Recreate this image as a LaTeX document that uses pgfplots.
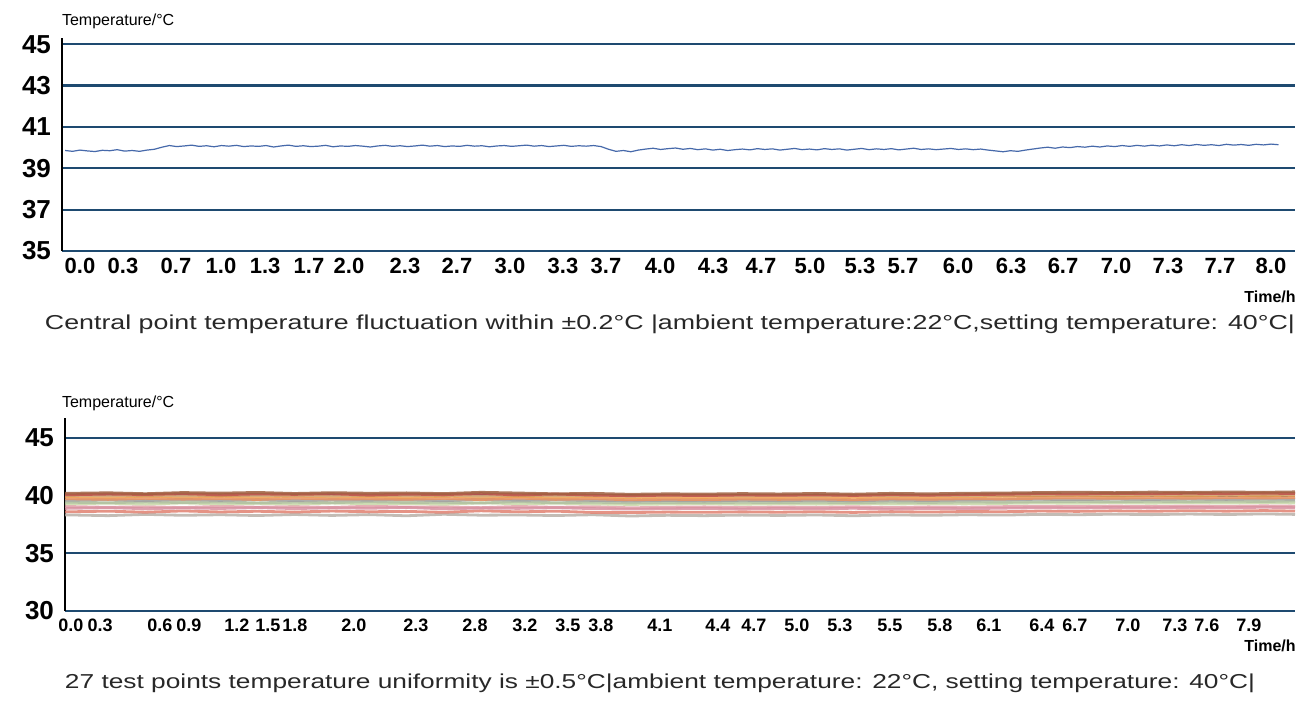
\documentclass[border=0pt]{standalone}
\usepackage{fontspec}
\setmainfont{Liberation Sans}
\usepackage{pgfplots}
\pgfplotsset{compat=1.18}
\usepackage{pgfplotstable}

\definecolor{gridblue}{RGB}{30,74,112}
\definecolor{lineblue}{RGB}{70,105,170}
\definecolor{captxt}{RGB}{40,40,40}
\definecolor{c1}{RGB}{192,80,77}
\definecolor{c2}{RGB}{240,160,80}
\definecolor{c3}{RGB}{216,176,128}
\definecolor{c4}{RGB}{160,160,160}
\definecolor{c5}{RGB}{176,192,160}
\definecolor{c6}{RGB}{200,216,168}
\definecolor{c7}{RGB}{224,160,168}
\definecolor{c8}{RGB}{224,128,112}
\definecolor{c9}{RGB}{184,176,168}
\definecolor{c10}{RGB}{160,96,64}
\definecolor{c11}{RGB}{232,144,96}
\definecolor{c12}{RGB}{216,144,160}

\pgfplotstableread{
x s1 s2 s3 s4 s5 s6 s7 s8 s9 s10 s11 s12
-0.04 40.05 39.92 40.02 39.58 39.42 39.28 39.05 38.58 38.32 40.18 39.72 38.88
0.25 40.12 39.85 39.97 39.63 39.36 39.33 38.97 38.64 38.25 40.23 39.66 38.94
0.50 40.08 39.95 40.05 39.55 39.45 39.25 39.03 38.55 38.36 40.15 39.75 38.85
0.75 40.15 39.88 39.96 39.66 39.38 39.35 38.95 38.66 38.28 40.25 39.68 38.92
1.00 40.06 39.93 40.08 39.57 39.44 39.27 39.06 38.57 38.33 40.20 39.73 38.87
1.25 40.13 39.86 39.99 39.64 39.35 39.32 38.98 38.63 38.26 40.26 39.65 38.95
1.50 40.09 39.96 40.03 39.56 39.43 39.26 39.04 38.56 38.35 40.17 39.76 38.86
1.75 40.14 39.89 39.95 39.62 39.37 39.34 38.96 38.65 38.27 40.24 39.69 38.93
2.00 40.04 39.91 40.06 39.59 39.46 39.29 39.07 38.59 38.34 40.19 39.71 38.89
2.25 40.11 39.84 40.00 39.65 39.39 39.31 38.99 38.62 38.24 40.22 39.67 38.96
2.50 40.07 39.94 40.04 39.54 39.41 39.24 39.02 38.54 38.37 40.16 39.74 38.84
2.75 40.16 39.87 39.94 39.67 39.34 39.36 38.94 38.67 38.29 40.27 39.64 38.91
3.00 40.05 39.92 40.07 39.58 39.47 39.28 39.05 38.58 38.31 40.21 39.77 38.88
3.25 40.12 39.85 39.98 39.63 39.36 39.33 38.97 38.64 38.26 40.14 39.66 38.94
3.50 40.03 39.90 40.02 39.57 39.42 39.27 39.03 38.53 38.33 40.18 39.72 38.86
3.75 39.98 39.82 39.93 39.52 39.35 39.22 38.93 38.52 38.22 40.10 39.62 38.82
4.00 40.02 39.87 39.99 39.56 39.40 39.26 38.98 38.56 38.28 40.14 39.67 38.85
4.25 39.99 39.83 40.01 39.53 39.37 39.29 39.01 38.54 38.25 40.12 39.64 38.88
4.50 40.04 39.88 39.95 39.58 39.41 39.24 38.96 38.58 38.30 40.16 39.69 38.83
4.75 40.01 39.85 40.00 39.55 39.38 39.28 39.00 38.55 38.27 40.13 39.66 38.87
5.00 40.05 39.89 39.96 39.59 39.42 39.25 38.97 38.59 38.31 40.17 39.70 38.84
5.25 40.00 39.84 40.02 39.54 39.36 39.30 39.02 38.53 38.24 40.11 39.63 38.89
5.50 40.06 39.90 39.97 39.60 39.43 39.26 38.95 38.60 38.32 40.18 39.71 38.82
5.75 40.02 39.86 40.01 39.56 39.39 39.29 39.01 38.56 38.28 40.14 39.67 38.88
6.00 40.07 39.91 39.98 39.61 39.44 39.27 38.98 38.61 38.33 40.19 39.72 38.85
6.25 40.10 39.93 40.04 39.63 39.41 39.31 39.03 38.59 38.30 40.21 39.70 38.90
6.50 40.15 39.97 40.08 39.67 39.46 39.35 39.07 38.65 38.36 40.25 39.76 38.94
6.75 40.12 40.00 40.05 39.64 39.49 39.32 39.04 38.62 38.33 40.28 39.79 38.91
7.00 40.18 39.96 40.10 39.69 39.45 39.37 39.08 38.67 38.38 40.24 39.75 38.96
7.25 40.14 40.01 40.06 39.65 39.50 39.33 39.05 38.63 38.34 40.29 39.80 38.92
7.50 40.19 39.97 40.11 39.70 39.46 39.38 39.09 38.68 38.39 40.26 39.76 38.97
7.75 40.15 40.02 40.07 39.66 39.51 39.34 39.06 38.64 38.35 40.30 39.81 38.93
8.00 40.20 39.98 40.12 39.71 39.47 39.39 39.10 38.69 38.40 40.27 39.77 38.98
8.21 40.16 40.03 40.08 39.67 39.52 39.35 39.07 38.65 38.36 40.31 39.82 38.94
}\uniformity

\pgfplotsset{
  panel/.style={
    scale only axis,
    axis x line=bottom, axis y line=left,
    axis line style={-},
    x axis line style={gridblue, line width=1.1pt},
    y axis line style={black, line width=1pt},
    ymajorgrids,
    major grid style={gridblue, line width=1.1pt},
    major tick length=0pt,
    yticklabel style={font=\fontsize{13}{13}\selectfont\bfseries, xshift=-2pt},
    xticklabel style={anchor=north, text height=7.5pt, text depth=0pt},
    clip=true,
  },
}

\begin{document}
\begin{tikzpicture}
\useasboundingbox (0,0) rectangle (651.5pt,-354pt);

% ---------- top panel ----------
\begin{axis}[panel,
  at={(31pt,-125.5pt)}, anchor=south west,
  width=616.5pt, height=106.5pt,
  xmin=-0.121, xmax=8.161,
  ymin=35, ymax=45.3,
  ytick={35,37,39,41,43,45},
  yticklabels={35,37,39,41,43,45},
  xtick={0,0.289,0.645,0.947,1.243,1.538,1.807,2.183,2.532,2.888,3.244,3.533,3.896,4.252,4.574,4.903,5.239,5.528,5.898,6.254,6.603,6.959,7.308,7.657,8.000},
  xticklabels={0.0,0.3,0.7,1.0,1.3,1.7,2.0,2.3,2.7,3.0,3.3,3.7,4.0,4.3,4.7,5.0,5.3,5.7,6.0,6.3,6.7,7.0,7.3,7.7,8.0},
  xticklabel style={font=\fontsize{11}{11}\selectfont\bfseries},
]
\addplot[lineblue, line width=0.6pt, mark=none] coordinates {
(-0.10,39.86) (-0.05,39.82) (0.00,39.88) (0.05,39.84) (0.10,39.81) (0.15,39.87) (0.20,39.85) (0.25,39.90) (0.30,39.83) (0.35,39.86) (0.40,39.82) (0.45,39.88) (0.50,39.92) (0.55,40.02) (0.60,40.10) (0.65,40.05) (0.70,40.08) (0.75,40.12) (0.80,40.06) (0.85,40.09) (0.90,40.04) (0.95,40.10) (1.00,40.07) (1.05,40.11) (1.10,40.05) (1.15,40.08) (1.20,40.06) (1.25,40.10) (1.30,40.03) (1.35,40.08) (1.40,40.12) (1.45,40.06) (1.50,40.09) (1.55,40.05) (1.60,40.07) (1.65,40.11) (1.70,40.04) (1.75,40.08) (1.80,40.06) (1.85,40.10) (1.90,40.07) (1.95,40.03) (2.00,40.08) (2.05,40.11) (2.10,40.06) (2.15,40.09) (2.20,40.05) (2.25,40.08) (2.30,40.12) (2.35,40.07) (2.40,40.10) (2.45,40.05) (2.50,40.08) (2.55,40.06) (2.60,40.11) (2.65,40.07) (2.70,40.09) (2.75,40.04) (2.80,40.08) (2.85,40.10) (2.90,40.06) (2.95,40.09) (3.00,40.12) (3.05,40.07) (3.10,40.10) (3.15,40.05) (3.20,40.08) (3.25,40.11) (3.30,40.06) (3.35,40.09) (3.40,40.07) (3.45,40.10) (3.50,40.05) (3.55,39.92) (3.60,39.82) (3.65,39.86) (3.70,39.80) (3.75,39.88) (3.80,39.93) (3.85,39.97) (3.90,39.91) (3.95,39.95) (4.00,39.98) (4.05,39.92) (4.10,39.96) (4.15,39.90) (4.20,39.94) (4.25,39.88) (4.30,39.92) (4.35,39.86) (4.40,39.90) (4.45,39.93) (4.50,39.89) (4.55,39.95) (4.60,39.91) (4.65,39.94) (4.70,39.88) (4.75,39.92) (4.80,39.96) (4.85,39.90) (4.90,39.93) (4.95,39.89) (5.00,39.95) (5.05,39.91) (5.10,39.94) (5.15,39.88) (5.20,39.92) (5.25,39.96) (5.30,39.90) (5.35,39.94) (5.40,39.91) (5.45,39.95) (5.50,39.89) (5.55,39.93) (5.60,39.97) (5.65,39.91) (5.70,39.94) (5.75,39.90) (5.80,39.93) (5.85,39.96) (5.90,39.91) (5.95,39.94) (6.00,39.90) (6.05,39.93) (6.10,39.88) (6.15,39.84) (6.20,39.80) (6.25,39.85) (6.30,39.82) (6.35,39.88) (6.40,39.93) (6.45,39.98) (6.50,40.02) (6.55,39.97) (6.60,40.03) (6.65,40.00) (6.70,40.05) (6.75,40.02) (6.80,40.07) (6.85,40.03) (6.90,40.08) (6.95,40.05) (7.00,40.10) (7.05,40.06) (7.10,40.11) (7.15,40.07) (7.20,40.12) (7.25,40.08) (7.30,40.13) (7.35,40.09) (7.40,40.14) (7.45,40.10) (7.50,40.15) (7.55,40.11) (7.60,40.14) (7.65,40.10) (7.70,40.16) (7.75,40.12) (7.80,40.15) (7.85,40.11) (7.90,40.16) (7.95,40.13) (8.00,40.17) (8.05,40.14)
};
\end{axis}

% ---------- bottom panel ----------
\begin{axis}[panel,
  at={(32.5pt,-305.5pt)}, anchor=south west,
  width=615pt, height=96.5pt,
  xmin=-0.040, xmax=8.210,
  ymin=30, ymax=46.7,
  ytick={30,35,40,45},
  yticklabels={30,35,40,45},
  xtick={0,0.195,0.597,0.791,1.113,1.321,1.502,1.898,2.314,2.710,3.045,3.333,3.555,3.950,4.339,4.581,4.869,5.158,5.493,5.828,6.157,6.512,6.734,7.089,7.404,7.619,7.901},
  xticklabels={0.0,0.3,0.6,0.9,1.2,1.5,1.8,2.0,2.3,2.8,3.2,3.5,3.8,4.1,4.4,4.7,5.0,5.3,5.5,5.8,6.1,6.4,6.7,7.0,7.3,7.6,7.9},
  xticklabel style={font=\fontsize{9}{9}\selectfont\bfseries, text height=6.5pt},
  every axis plot/.append style={line width=1.4pt, mark=none, opacity=0.85},
]
\addplot[c9]  table[x=x, y=s9]  {\uniformity};
\addplot[c8]  table[x=x, y=s8]  {\uniformity};
\addplot[c7]  table[x=x, y=s7]  {\uniformity};
\addplot[c12] table[x=x, y=s12] {\uniformity};
\addplot[c6]  table[x=x, y=s6]  {\uniformity};
\addplot[c5]  table[x=x, y=s5]  {\uniformity};
\addplot[c4]  table[x=x, y=s4]  {\uniformity};
\addplot[c11] table[x=x, y=s11] {\uniformity};
\addplot[c2]  table[x=x, y=s2]  {\uniformity};
\addplot[c3]  table[x=x, y=s3]  {\uniformity};
\addplot[c1]  table[x=x, y=s1]  {\uniformity};
\addplot[c10] table[x=x, y=s10] {\uniformity};
\end{axis}

% ---------- texts ----------
\node[anchor=west, font=\fontsize{8}{8}\selectfont] at (27.5pt,-10.5pt) {Temperature/°C};
\node[anchor=west, font=\fontsize{8}{8}\selectfont] at (27.5pt,-201.5pt) {Temperature/°C};
\node[font=\fontsize{8}{8}\selectfont\bfseries] at (635pt,-148.5pt) {Time/h};
\node[font=\fontsize{8}{8}\selectfont\bfseries] at (635pt,-323pt) {Time/h};
\node[text=captxt, inner sep=0pt] at (335pt,-162pt) {\resizebox{625pt}{7.3pt}{\fontsize{11}{11}\selectfont Central point temperature fluctuation within ±0.2°C |ambient temperature:22°C,setting temperature: 40°C|}};
\node[text=captxt, inner sep=0pt] at (330pt,-341.5pt) {\resizebox{595pt}{7.3pt}{\fontsize{11}{11}\selectfont 27 test points temperature uniformity is ±0.5°C|ambient temperature: 22°C, setting temperature: 40°C|}};
\end{tikzpicture}
\end{document}
